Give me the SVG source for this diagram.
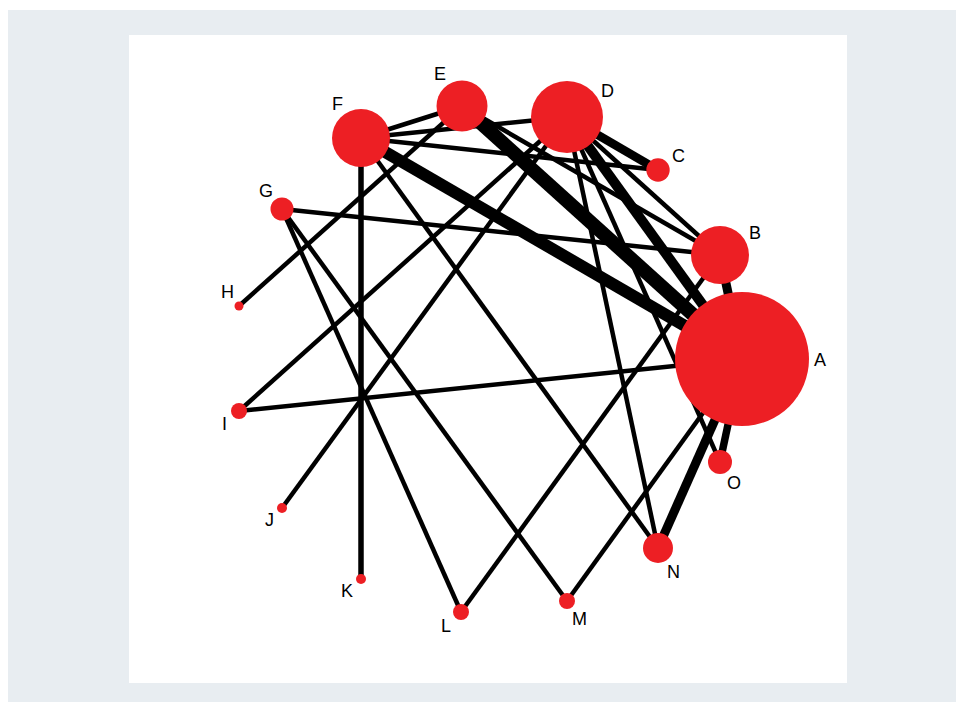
<svg xmlns="http://www.w3.org/2000/svg" width="956" height="702" viewBox="0 0 956 702">
<style>
.bg{fill:#e8edf1}
.panel{fill:#ffffff}
.e{stroke:#000;fill:none;stroke-linecap:butt;stroke-width:4.5}
.n{fill:#ed1f24}
.lbl{font-family:"Liberation Sans",Arial,sans-serif;font-size:18px;fill:#000}
</style>
<rect class="bg" x="8" y="10" width="948" height="692"/>
<rect class="panel" x="129" y="35" width="718" height="648"/>
<g id="connectors">
<line class="e" x1="361" y1="138" x2="361" y2="579" style="stroke-width:5.5"/>
<line class="e" x1="361" y1="138" x2="462" y2="106"/>
<line class="e" x1="361" y1="138" x2="567" y2="117"/>
<line class="e" x1="361" y1="138" x2="658" y2="170"/>
<line class="e" x1="361" y1="138" x2="742" y2="359" style="stroke-width:12"/>
<line class="e" x1="361" y1="138" x2="658" y2="548"/>
<line class="e" x1="462" y1="106" x2="742" y2="359" style="stroke-width:14"/>
<line class="e" x1="462" y1="106" x2="720" y2="255"/>
<line class="e" x1="462" y1="106" x2="239" y2="306"/>
<line class="e" x1="567" y1="117" x2="658" y2="170" style="stroke-width:8.5"/>
<line class="e" x1="567" y1="117" x2="720" y2="255"/>
<line class="e" x1="567" y1="117" x2="742" y2="359" style="stroke-width:10"/>
<line class="e" x1="567" y1="117" x2="658" y2="548"/>
<line class="e" x1="567" y1="117" x2="720" y2="462"/>
<line class="e" x1="567" y1="117" x2="239" y2="411"/>
<line class="e" x1="567" y1="117" x2="282" y2="508"/>
<line class="e" x1="282" y1="209" x2="720" y2="255"/>
<line class="e" x1="282" y1="209" x2="461" y2="612"/>
<line class="e" x1="282" y1="209" x2="567" y2="601"/>
<line class="e" x1="239" y1="411" x2="742" y2="359"/>
<line class="e" x1="461" y1="612" x2="720" y2="255"/>
<line class="e" x1="567" y1="601" x2="742" y2="359"/>
<line class="e" x1="658" y1="548" x2="742" y2="359" style="stroke-width:9"/>
<line class="e" x1="720" y1="462" x2="742" y2="359" style="stroke-width:7.5"/>
<line class="e" x1="720" y1="255" x2="742" y2="359" style="stroke-width:9"/>
</g>
<g id="node-A"><circle class="n" cx="742" cy="359" r="67"/><text class="lbl" x="814" y="366">A</text></g>
<g id="node-B"><circle class="n" cx="720" cy="255" r="29"/><text class="lbl" x="749" y="239">B</text></g>
<g id="node-C"><circle class="n" cx="658" cy="170" r="11.7"/><text class="lbl" x="672" y="162">C</text></g>
<g id="node-D"><circle class="n" cx="567" cy="117" r="36"/><text class="lbl" x="601" y="97">D</text></g>
<g id="node-E"><circle class="n" cx="462" cy="106" r="25.5"/><text class="lbl" x="434" y="80">E</text></g>
<g id="node-F"><circle class="n" cx="361" cy="138" r="29"/><text class="lbl" x="332" y="110">F</text></g>
<g id="node-G"><circle class="n" cx="282" cy="209" r="11.5"/><text class="lbl" x="259" y="197">G</text></g>
<g id="node-H"><circle class="n" cx="239" cy="306" r="4.5"/><text class="lbl" x="221" y="298">H</text></g>
<g id="node-I"><circle class="n" cx="239" cy="411" r="8"/><text class="lbl" x="222" y="430">I</text></g>
<g id="node-J"><circle class="n" cx="282" cy="508" r="5"/><text class="lbl" x="265" y="526">J</text></g>
<g id="node-K"><circle class="n" cx="361" cy="579" r="5"/><text class="lbl" x="341" y="597">K</text></g>
<g id="node-L"><circle class="n" cx="461" cy="612" r="8"/><text class="lbl" x="441" y="632">L</text></g>
<g id="node-M"><circle class="n" cx="567" cy="601" r="8"/><text class="lbl" x="572" y="625">M</text></g>
<g id="node-N"><circle class="n" cx="658" cy="548" r="15"/><text class="lbl" x="667" y="578">N</text></g>
<g id="node-O"><circle class="n" cx="720" cy="462" r="12"/><text class="lbl" x="727" y="489">O</text></g>
</svg>
